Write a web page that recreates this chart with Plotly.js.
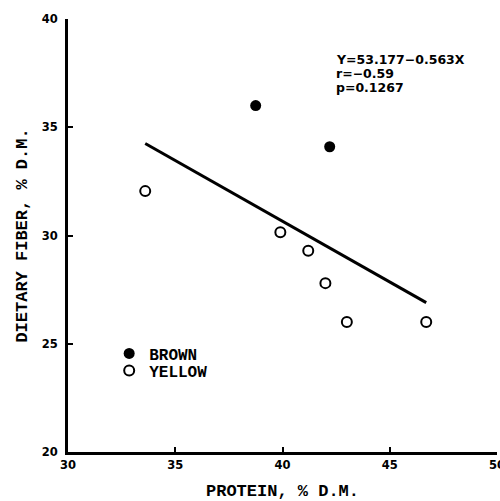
<!DOCTYPE html>
<html>
<head>
<meta charset="utf-8">
<script src="https://cdn.plot.ly/plotly-3.0.1.min.js"></script>
<style>html,body{margin:0;padding:0;background:#fff;}#chart{width:500px;height:501px;}</style>
</head>
<body>
<div id="chart"></div>
<script>
// Brown seeds
const brownProtein = [38.75, 42.2];
const brownFiber = [36.0, 34.1];
// Yellow seeds
const yellowProtein = [33.6, 39.9, 41.2, 42.0, 43.0, 46.7];
const yellowFiber = [32.05, 30.15, 29.3, 27.8, 26.0, 26.0];
// Regression line endpoints (Y = 53.177 - 0.563X)
const fitProtein = [33.6, 46.7];
const fitFiber = [34.25, 26.9];
const statsText = ["Y=53.177\u22120.563X", "r=\u22120.59", "p=0.1267"];
const xTicks = [30, 35, 40, 45, 50];
const yTicks = [20, 25, 30, 35, 40];

const slab = "'Liberation Mono', 'Courier New', monospace";
const sans = "'DejaVu Sans', Arial, sans-serif";

const traces = [
  {x: fitProtein, y: fitFiber, mode: 'lines', line: {color: '#000', width: 3}, showlegend: false, hoverinfo: 'skip'},
  {x: brownProtein, y: brownFiber, mode: 'markers', name: 'BROWN', legend: 'legend',
   marker: {symbol: 'circle', size: 11, color: '#000', line: {width: 0}}},
  {x: yellowProtein, y: yellowFiber, mode: 'markers', name: 'YELLOW', legend: 'legend2',
   marker: {symbol: 'circle-open', size: 10, color: '#000', line: {width: 2, color: '#000'}}}
];

const axisCommon = {
  showgrid: false, zeroline: false, showline: true, linecolor: '#000', linewidth: 3,
  ticks: 'inside', ticklen: 5, tickwidth: 2, tickcolor: '#000',
  tickfont: {family: sans, size: 11.5, color: '#000', weight: 'bold'},
  mirror: false
};

const legendFont = {family: slab, size: 16, color: '#000', weight: 'bold'};
const legendBase = {xanchor: 'left', yanchor: 'middle', bgcolor: 'rgba(0,0,0,0)', font: legendFont};

// plot area: x 68..497, y 19..452
const titleFont = {family: slab, size: 17, color: '#000', weight: 'bold'};
const annots = statsText.map((t, i) => ({
  xref: 'paper', yref: 'paper', x: 0.621, y: (452 - (59 + i * 14.5)) / 433,
  xanchor: 'left', yanchor: 'middle', align: 'left', text: t, showarrow: false,
  font: {family: sans, size: 12.5, color: '#000', weight: 'bold'}
}));

const layout = {
  width: 500, height: 501,
  margin: {l: 68, r: 3, t: 19, b: 49},
  paper_bgcolor: '#fff', plot_bgcolor: '#fff',
  showlegend: true,
  legend: Object.assign({}, legendBase, {x: 0.096, y: (452 - 353.5) / 433}),
  legend2: Object.assign({}, legendBase, {x: 0.096, y: (452 - 370.5) / 433}),
  xaxis: Object.assign({}, axisCommon, {range: [30, 50], tickvals: xTicks, ticktext: xTicks.map(String),
    ticklabeloverflow: 'allow',
    title: {text: 'PROTEIN, % D.M.', font: titleFont, standoff: 14}}),
  yaxis: Object.assign({}, axisCommon, {range: [20, 40], tickvals: yTicks, ticktext: yTicks.map(String),
    ticklabelstandoff: 5,
    title: {text: 'DIETARY FIBER, % D.M.', font: titleFont, standoff: 10}}),
  annotations: annots
};

Plotly.newPlot('chart', traces, layout, {displayModeBar: false, staticPlot: true});
</script>
</body>
</html>
